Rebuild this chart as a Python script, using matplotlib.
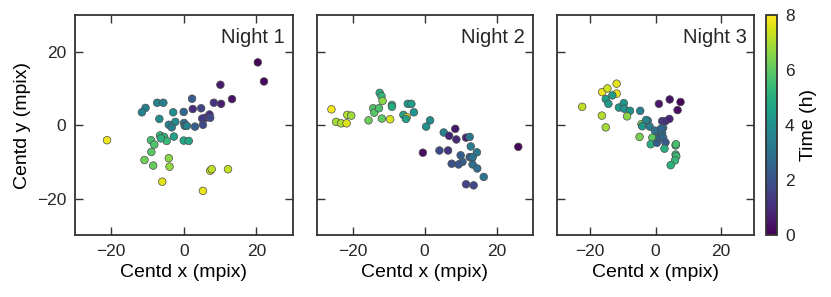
import numpy as np
import matplotlib
matplotlib.use('Agg')
import matplotlib.pyplot as plt

# DATA (centroid offsets in mpix, time in hours)

night1_x = [20.4, 22.1, 10.1, 13.3, 10.3, 8.3, 2.3, 2.5, 4.8, 7.1, 6.0, 5.1, 7.3, 5.3, 3.1,
            0.0, 0.1, 0.3, 0.9, -2.9, -2.3, -4.1, -3.3, -6.7, -7.3, -5.6, -10.5, -11.5,
            -2.7, -6.5, -5.4, -4.7, -6.3, 0.0, 1.4, -9.0, -8.1, -8.9, -10.8, -8.4, -4.1,
            -3.9, -21.1, -5.9, 5.3, 7.3, 7.7, 12.2]
night1_y = [17.1, 11.9, 11.0, 7.1, 5.8, 6.1, 7.2, 4.4, 4.6, 2.9, 2.0, 1.8, 2.0, 0.1, -0.4,
            3.6, 0.6, -0.2, -0.2, 3.5, 0.9, 0.1, -0.6, 1.7, 6.1, 6.1, 4.7, 3.5,
            -3.1, -2.8, -3.2, -4.3, -3.6, -4.2, -4.3, -4.1, -5.3, -7.3, -9.5, -11.0, -9.0,
            -11.3, -4.1, -15.4, -17.9, -12.4, -12.0, -12.0]
night1_t = [0.1, 0.2, 0.6, 0.4, 0.7, 1.2, 2.3, 1.0, 1.6, 1.1, 1.3, 1.4, 1.8, 1.7, 2.4,
            2.6, 2.8, 3.0, 3.6, 3.9, 3.8, 3.4, 3.3, 3.9, 3.5, 3.4, 3.4, 3.5,
            4.6, 5.3, 5.2, 5.4, 5.1, 4.8, 4.7, 5.6, 5.8, 5.9, 6.3, 6.1, 6.6,
            6.7, 7.8, 7.6, 7.7, 7.4, 7.2, 7.3]

night2_x = [-25.9, -24.6, -23.2, -21.7, -21.5, -20.4, -15.6, -14.3, -14.0, -12.7, -12.5,
            -12.0, -11.7, -11.9, -9.6, -9.1, -9.1, -4.7, -3.7, -5.9, -5.0, -5.2, -3.0,
            1.5, 0.4, 5.3, 8.5, 6.8, 8.8, 11.5, 12.5, 12.8, 14.5, 13.2, -0.5, 4.1, 6.5,
            10.0, 12.5, 13.3, 10.5, 7.5, 9.4, 13.3, 14.6, 16.4, 11.5, 13.6, 26.0]
night2_y = [4.3, 0.9, 0.5, 0.5, 2.8, 2.6, 1.3, 4.6, 3.4, 4.6, 8.8,
            7.9, 6.6, 1.8, 1.6, 5.5, 5.0, 5.8, 5.8, 2.8, 2.2, 1.7, 3.5,
            1.3, -0.4, -2.0, -1.0, -2.9, -3.9, -3.4, -3.2, -5.8, -7.4, -8.9, -7.5, -6.9, -6.9,
            -8.2, -8.7, -8.7, -10.0, -10.5, -10.7, -10.7, -11.8, -14.1, -16.1, -16.4, -5.9]
night2_t = [7.9, 6.9, 7.0, 7.6, 7.1, 6.8, 6.2, 5.8, 5.9, 5.7, 5.0,
            5.3, 6.6, 6.0, 7.5, 4.8, 4.9, 4.3, 4.4, 4.7, 7.7, 4.6, 4.1,
            3.9, 4.0, 3.5, 0.5, 0.8, 0.9, 0.8, 3.2, 3.3, 3.2, 3.0, 0.3, 1.8, 1.2,
            2.3, 2.2, 3.0, 2.4, 2.0, 2.1, 2.9, 2.8, 3.1, 1.6, 1.7, 0.1]

night3_x = [-22.4, -16.4, -15.2, -16.3, -14.7, -11.9, -11.9, -15.2, -14.4, -13.2, -11.2,
            -9.7, -9.6, -7.8, -8.7, -4.7, -4.3, -4.1, -2.4, -1.8, -4.9, -1.0, -1.5,
            0.2, 0.4, 1.2, 2.3, 2.0, 2.3, 3.0, 2.7, 2.0, 3.0, 4.2, 1.0, 4.3, 7.6, 6.7,
            6.1, 6.2, 6.1, 6.3, 5.9, 4.6, -2.9, -0.2, 1.7]
night3_y = [5.0, 2.6, -0.6, 9.0, 10.0, 11.3, 8.6, 7.1, 5.8, 8.1, 4.8,
            6.0, 4.5, 3.9, 2.4, 3.9, 0.3, -0.3, 1.2, -0.4, -3.2, -3.4, -5.2,
            -1.6, -4.8, -3.3, -0.7, -2.1, -3.4, -4.7, -6.4, 1.1, 1.1, 1.7, 5.8, 7.0, 6.3, 4.1,
            -5.5, -5.2, -8.0, -8.5, -9.6, -10.9, 1.4, -1.5, -0.9]
night3_t = [7.2, 7.1, 6.9, 7.8, 7.4, 7.6, 7.7, 4.5, 4.3, 4.4, 4.3,
            4.2, 4.1, 4.0, 6.6, 3.5, 6.5, 4.2, 3.4, 3.3, 6.4, 6.0, 5.0,
            3.2, 2.3, 2.5, 3.0, 3.1, 2.7, 2.2, 5.0, 1.3, 1.1, 0.8, 0.5, 0.4, 0.1, 0.3,
            5.2, 5.6, 5.4, 5.5, 5.3, 5.1, 3.6, 2.9, 2.6]

nights = [(night1_x, night1_y, night1_t), (night2_x, night2_y, night2_t),
          (night3_x, night3_y, night3_t)]
night_labels = ['Night 1', 'Night 2', 'Night 3']


plt.rcParams['font.family'] = ['Liberation Sans', 'DejaVu Sans']
plt.rcParams['axes.edgecolor'] = '0.2'
plt.rcParams['axes.linewidth'] = 1.3
plt.rcParams['text.color'] = '0.15'
plt.rcParams['xtick.color'] = '0.2'
plt.rcParams['ytick.color'] = '0.2'
plt.rcParams['xtick.labelcolor'] = '0.15'
plt.rcParams['ytick.labelcolor'] = '0.15'

fig = plt.figure(figsize=(8.31, 2.97), dpi=100)

boxes = [(0.0899, 0.2077, 0.2623, 0.7418),
         (0.3811, 0.2077, 0.2599, 0.7418),
         (0.6706, 0.2077, 0.2367, 0.7418)]

for i, (box, (nx, ny, nt), label) in enumerate(zip(boxes, nights, night_labels)):
    ax = fig.add_axes(box)
    sc = ax.scatter(nx, ny, c=nt, cmap='viridis', vmin=0, vmax=8, s=30,
                    edgecolors='0.3', linewidths=0.5, zorder=3)
    ax.set_xlim(-30, 30)
    ax.set_ylim(-30, 30)
    ax.set_xticks([-20, 0, 20])
    ax.set_yticks([-20, 0, 20])
    ax.tick_params(direction='in', top=True, right=True, length=6, width=1,
                   labelsize=12.5, pad=6)
    ax.set_xlabel('Centd x (mpix)', fontsize=14)
    if i == 0:
        ax.set_ylabel('Centd y (mpix)', fontsize=14)
    else:
        ax.tick_params(labelleft=False)
    ax.text(0.965, 0.94, label, transform=ax.transAxes, ha='right', va='top',
            fontsize=14.5)

cax = fig.add_axes((0.9218, 0.2077, 0.0129, 0.7418))
cb = fig.colorbar(sc, cax=cax, ticks=[0, 2, 4, 6, 8])
cb.outline.set_edgecolor('0.2')
cb.outline.set_linewidth(1.3)
cb.ax.tick_params(length=0, labelsize=12.5, pad=6)
cb.set_label('Time (h)', fontsize=14)

plt.savefig('out.png', dpi=100)
plt.close()
